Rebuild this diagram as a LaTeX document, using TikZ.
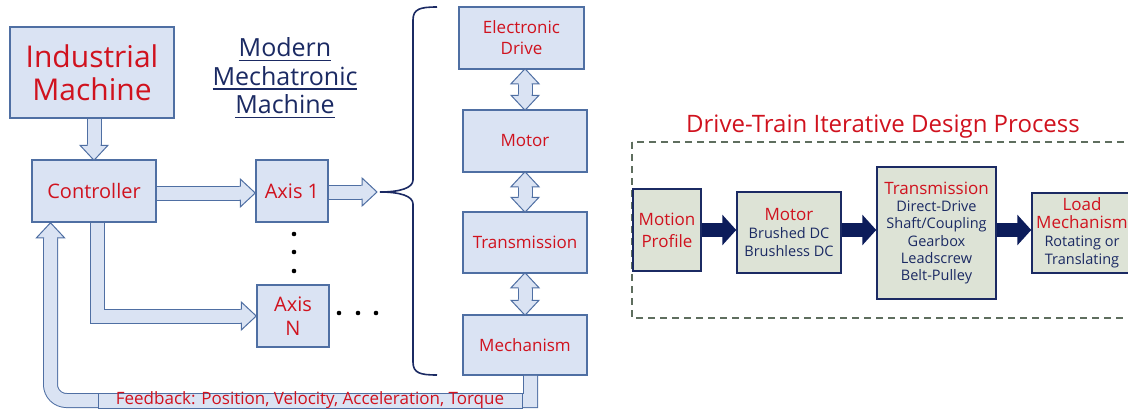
\documentclass[tikz,border=0pt]{standalone}
\usepackage{fontspec}
\setmainfont{Open Sans}
\usetikzlibrary{arrows.meta,calc}
\definecolor{bluebg}{HTML}{DAE3F3}
\definecolor{bluebd}{HTML}{4F6FA3}
\definecolor{redtx}{HTML}{D0121E}
\definecolor{navytx}{HTML}{1B2A63}
\definecolor{greenbg}{HTML}{DDE3D6}
\definecolor{dashcol}{HTML}{5E6E5E}
\definecolor{arrnavy}{HTML}{0C1C5A}
\newcommand{\fsz}[2]{\fontsize{#1}{#2}\selectfont}
\newcommand{\hd}[1]{{\fsz{17}{20}\color{redtx}#1}}
\newcommand{\uln}[1]{\leavevmode\vtop{\hbox{#1}\kern2.5pt\hrule height 1.6pt}}

\tikzset{
  % hollow arrow head, base centred on the origin, pointing along +x
  bhead/.pic={\filldraw[draw=bluebd,fill=bluebg,line width=1pt]
    (-0.6,7) -- (0,7) -- (0,14) -- (15,0) -- (0,-14) -- (0,-7) -- (-0.6,-7);}
}

\begin{document}
\begin{tikzpicture}[x=1pt,y=-1pt,
  lbox/.style={draw=bluebd,fill=bluebg,line width=1.5pt,align=center,
               inner sep=0pt,text=redtx},
  gbox/.style={draw=navytx,fill=greenbg,line width=1.5pt,align=center,
               inner sep=0pt,text=navytx,font=\fsz{14.5}{18}},
  band/.style={draw=bluebd,line width=1pt,double=bluebg,double distance=13pt},
  navarr/.style={arrnavy,line width=14pt,-{Triangle[length=14pt,width=30pt]}},
  dashbox/.style={draw=dashcol,line width=1.4pt,dash pattern=on 7pt off 5pt},
]
\useasboundingbox (0,0) rectangle (1128,410);

% --- left: machine hierarchy ---
\node[lbox,minimum width=164pt,minimum height=91pt,font=\fsz{30}{33}] (ind) at (92,72.5) {Industrial\\Machine};
\node[lbox,minimum width=124pt,minimum height=62pt,font=\fsz{20}{24}] (ctrl) at (94,191) {Controller};
\node[lbox,minimum width=72pt,minimum height=62pt,font=\fsz{20}{24}] (ax1) at (292,191) {Axis 1};
\node[lbox,minimum width=72pt,minimum height=62pt,font=\fsz{20}{24}] (axN) at (293,316) {Axis\\N};
\node[align=center,text=navytx,font=\fsz{25}{28.5}] (mmm) at (285,78)
  {\uln{Modern}\\\uln{Mechatronic}\\\uln{Machine}};

\node[lbox,minimum width=125pt,minimum height=62pt,font=\fsz{17}{21}] (ed) at (521.5,38) {Electronic\\Drive};
\node[lbox,minimum width=124pt,minimum height=62pt,font=\fsz{17}{21}] (mot) at (525,141) {Motor};
\node[lbox,minimum width=124pt,minimum height=61pt,font=\fsz{17}{21}] (trans) at (525,242.5) {Transmission};
\node[lbox,minimum width=124pt,minimum height=60pt,font=\fsz{17}{21}] (mech) at (525,345) {Mechanism};

% block arrows
\draw[band] (ind.south -| ctrl.north) -- ($(ctrl.north)+(0,-14)$);
\pic[rotate=-90] at ($(ctrl.north)+(0,-14)$) {bhead};
\draw[band] (ctrl.east |- 0,193) -- ($(ax1.west |- 0,193)+(-15,0)$);
\pic at ($(ax1.west |- 0,193)+(-15,0)$) {bhead};
\draw[band] (ax1.east |- 0,192) -- (362,192);
\pic at (362,192) {bhead};
\draw[band] ($(ctrl.south)+(3,0)$) |- ($(axN.west)+(-15,0)$);
\pic at ($(axN.west)+(-15,0)$) {bhead};

% feedback loop
\draw[band] ($(mech.south)+(5.5,0)$) -- (530.5,400.5) [rounded corners=16pt]
  -| ($(ctrl.south)+(-43.5,15)$);
\pic[rotate=90] at ($(ctrl.south)+(-43.5,15)$) {bhead};
\node[draw=bluebd,fill=bluebg,line width=1pt,minimum width=424pt,minimum height=15pt,
      inner sep=0pt,text height=11pt,text depth=3pt,text=redtx,font=\fsz{17}{18}] (fb)
  at (310,400.5) {Feedback: Position, Velocity, Acceleration, Torque};

% drive chain, two-way
\foreach \a/\b in {ed/mot,mot/trans,trans/mech}{
  \draw[band] ($(\b.north |- \a.south)+(0,13)$) -- ($(\b.north)+(0,-13)$);
  \pic[rotate=90] at ($(\b.north |- \a.south)+(0,14)$) {bhead};
  \pic[rotate=-90] at ($(\b.north)+(0,-14)$) {bhead};
}

% more axes
\foreach \yy in {234,252,271} \fill (294,\yy) circle (2.3pt);
\foreach \xx in {339,358,376} \fill (\xx,313) circle (2.3pt);

% brace grouping the drive chain
\draw[navytx,line width=1.6pt] (437,7) .. controls (420,7) and (413,9) .. (413,20)
  -- (413,180) .. controls (413,188) and (400,192) .. (380,192)
  .. controls (400,192) and (413,196) .. (413,204) -- (413,362)
  .. controls (413,373) and (420,375) .. (437,375);

% --- right: design process ---
\draw[dashbox] (632,142) rectangle (1140,318);
\node[text=redtx,font=\fsz{24}{28}] (dtp) at (883,127) {Drive-Train Iterative Design Process};

\node[gbox,minimum width=68pt,minimum height=82pt,text=redtx,font=\fsz{17}{22}] (gmp) at (667,230) {Motion\\Profile};
\node[gbox,minimum width=104pt,minimum height=81pt] (gmo) at (789,232.5)
  {\hd{Motor}\\Brushed DC\\Brushless DC};
\node[gbox,minimum width=119pt,minimum height=132pt,font=\fsz{14.5}{17.3}] (gtr) at (936.5,233)
  {\hd{Transmission}\\Direct-Drive\\Shaft/Coupling\\Gearbox\\Leadscrew\\Belt-Pulley};
\node[gbox,minimum width=100pt,minimum height=80pt] (gld) at (1082,233)
  {\hd{Load}\\\hd{Mechanism}\\Rotating or\\Translating};

\draw[navarr] (gmp.east) -- (gmp.east -| gmo.west);
\draw[navarr] (gmo.east |- gmp.east) -- (gmp.east -| gtr.west);
\draw[navarr] (gtr.east |- gmp.east) -- (gmp.east -| gld.west);
\end{tikzpicture}
\end{document}
